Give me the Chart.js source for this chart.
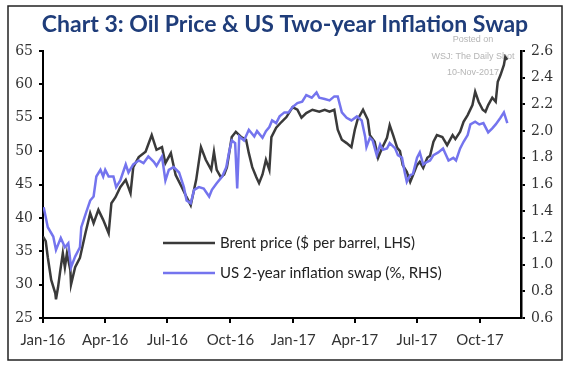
<!DOCTYPE html>
<html>
<head>
<meta charset="utf-8">
<script src="https://cdn.jsdelivr.net/npm/chart.js@4.4.1/dist/chart.umd.min.js"></script>
<style>
  body { margin: 0; background: #fff; }
  #wrap { width: 570px; height: 365px; }
</style>
</head>
<body>
<div id="wrap"><canvas id="chart" width="570" height="365"></canvas></div>
<script>
// days counted from 1 Jan 2016
const brentDays = [0, 4, 7, 12, 18, 19, 22, 25, 29, 32, 35, 40, 41, 47, 54, 62, 69, 74, 81, 88, 96,
  100, 106, 113, 121, 128, 132, 140, 150, 159, 166, 174, 179, 187, 194, 203, 210, 216, 224, 231,
  238, 246, 250, 254, 260, 265, 269, 276, 282, 290, 297, 301, 306, 312, 316, 321, 326, 331, 334,
  341, 349, 356, 365, 372, 378, 385, 394, 404, 412, 419, 426, 431, 437, 444, 451, 456, 460, 468,
  475, 478, 485, 490, 496, 503, 507, 512, 518, 522, 526, 532, 537, 541, 547, 551, 556, 562, 566,
  571, 576, 584, 591, 599, 603, 610, 615, 621, 628, 632, 637, 643, 647, 651, 657, 662, 665, 669,
  674, 676, 679];
const brentPrice = [37.2, 36.5, 34.1, 30.7, 28.7, 27.8, 29.6, 31.9, 34.7, 32.6, 34.7, 32.2, 30.0,
  32.6, 34.0, 37.7, 40.7, 39.2, 41.2, 39.7, 37.7,
  42.2, 43.1, 44.6, 45.7, 43.7, 47.6, 49.1, 49.9, 52.4, 50.2, 50.6, 48.2, 49.7, 46.4, 44.6, 43.1,
  41.9, 45.7, 50.6,
  48.7, 47.2, 49.9, 47.2, 46.1, 46.5, 47.6, 52.1, 52.9, 52.1, 51.7, 49.7, 47.6, 46.1, 45.2, 46.5,
  48.7, 47.2, 52.1,
  53.5, 54.4, 55.1, 56.6, 56.2, 55.0, 55.7, 56.2, 55.9, 56.2, 55.9, 56.2, 53.2, 51.7, 51.2, 50.6,
  53.2, 54.7, 56.2,
  54.7, 52.4, 51.4, 49.0, 50.5, 52.0, 53.9, 52.4, 50.5, 50.0, 47.9, 46.9, 45.4, 46.4, 47.9, 48.4,
  47.5, 49.0, 49.3,
  51.4, 52.4, 52.1, 50.9, 52.4, 51.8, 52.9, 54.4, 55.4, 56.9, 58.9, 57.4, 56.2, 55.9, 56.9, 58.0,
  57.4, 60.4, 61.4,
  62.9, 64.1, 63.7];

const swapDays = [1, 7, 15, 19, 26, 32, 37, 41, 47, 54, 56, 63, 69, 74, 78, 84, 88, 91, 96, 103,
  107, 113, 121, 125, 132, 140, 147, 154, 162, 166, 174, 179, 184, 191, 199, 206, 210, 216, 221,
  228, 235, 243, 247, 254, 262, 268, 272, 276, 281, 284, 287, 294, 301, 309, 313, 321, 326, 331,
  335, 341, 346, 353, 359, 365, 372, 379, 385, 393, 400, 404, 412, 419, 426, 431, 437, 444, 451,
  459, 466, 471, 473, 478, 482, 488, 493, 497, 503, 507, 515, 519, 525, 529, 532, 537, 541, 547,
  551, 556, 562, 566, 571, 578, 585, 593, 600, 604, 610, 615, 621, 625, 632, 638, 644, 651, 657,
  662, 669, 674, 679];
const swapRate = [1.43, 1.28, 1.21, 1.11, 1.20, 1.13, 1.16, 0.98, 1.06, 1.13, 1.28, 1.39, 1.48,
  1.51, 1.66, 1.71, 1.66, 1.71, 1.66, 1.66,
  1.58, 1.63, 1.75, 1.69, 1.75, 1.78, 1.76, 1.81, 1.77, 1.74, 1.81, 1.63, 1.71, 1.73, 1.69, 1.58,
  1.48, 1.46, 1.56,
  1.58, 1.57, 1.51, 1.56, 1.61, 1.66, 1.73, 1.84, 1.93, 1.91, 1.57, 1.96, 1.93, 2.01, 1.96, 2.00,
  1.95, 2.00, 2.03,
  2.08, 2.06, 2.11, 2.14, 2.14, 2.18, 2.21, 2.22, 2.27, 2.25, 2.29, 2.25, 2.24, 2.23, 2.26, 2.26,
  2.14, 2.10, 2.08,
  2.11, 2.08, 1.96, 1.88, 1.95, 1.93, 1.82, 1.90, 1.86, 1.87, 1.91, 1.87, 1.82, 1.80, 1.69, 1.62,
  1.67, 1.68, 1.80,
  1.84, 1.75, 1.77, 1.78, 1.82, 1.84, 1.87, 1.78, 1.80, 1.78, 1.87, 1.92, 1.97, 2.05, 2.07, 2.05,
  2.06, 1.99, 2.02,
  2.05, 2.10, 2.14, 2.06];

const tickDates = ['2016-01-01', '2016-04-01', '2016-07-01', '2016-10-01',
  '2017-01-01', '2017-04-01', '2017-07-01', '2017-10-01'];
const tickLabels = ['Jan-16', 'Apr-16', 'Jul-16', 'Oct-16', 'Jan-17', 'Apr-17', 'Jul-17', 'Oct-17'];
const axisEnd = '2017-11-30';

const seriesNames = ['Brent price ($ per barrel, LHS)', 'US 2-year inflation swap (%, RHS)'];
const titleText = 'Chart 3: Oil Price & US Two-year Inflation Swap';
const stampLines = ['Posted on', 'WSJ: The Daily Shot', '10-Nov-2017'];

function dayOf(s) {
  const p = s.split('-').map(Number);
  return (Date.UTC(p[0], p[1] - 1, p[2]) - Date.UTC(2016, 0, 1)) / 86400000;
}
const tickDays = tickDates.map(dayOf);

const BLACK = '#3a3a3a';
const BLUE = '#7474ee';

// titre, tampon, légende et cadre
const decor = {
  id: 'decor',
  beforeDraw(chart) {
    const ctx = chart.ctx;
    ctx.save();
    ctx.fillStyle = '#fff';
    ctx.fillRect(0, 0, chart.width, chart.height);
    ctx.restore();
  },
  beforeDatasetsDraw(chart) {
    const ctx = chart.ctx;
    ctx.save();
    ctx.fillStyle = '#b5b5b5';
    ctx.font = '9px "Liberation Sans"';
    ctx.textAlign = 'center';
    ctx.textBaseline = 'middle';
    stampLines.forEach((t, i) => ctx.fillText(t, 473, 40 + i * 16.5));
    ctx.restore();
  },
  afterDraw(chart) {
    const ctx = chart.ctx;
    ctx.save();
    // titre
    ctx.fillStyle = '#1f3d7a';
    ctx.font = 'bold 23px Lato';
    ctx.textAlign = 'center';
    ctx.textBaseline = 'alphabetic';
    ctx.fillText(titleText, 285, 32, 515);

    // légende
    const colors = [BLACK, BLUE];
    ctx.font = '15px Lato';
    ctx.textAlign = 'left';
    ctx.textBaseline = 'middle';
    seriesNames.forEach((name, i) => {
      const y = 243 + i * 30;
      ctx.strokeStyle = colors[i];
      ctx.lineWidth = 2.5;
      ctx.beginPath();
      ctx.moveTo(163, y);
      ctx.lineTo(215, y);
      ctx.stroke();
      ctx.fillStyle = '#222';
      ctx.fillText(name, 220, y);
    });

    // cadre
    ctx.strokeStyle = '#222';
    ctx.lineWidth = 1.5;
    ctx.strokeRect(8, 6, 554, 354);
    ctx.restore();
  }
};

const tickFontY = { family: '"DejaVu Serif"', size: 14 };

new Chart(document.getElementById('chart'), {
  type: 'line',
  data: {
    datasets: [
      {
        label: seriesNames[0],
        data: brentDays.map((d, i) => ({ x: d, y: brentPrice[i] })),
        yAxisID: 'y',
        borderColor: BLACK,
        borderWidth: 2.5,
        pointRadius: 0,
        tension: 0,
        order: 2
      },
      {
        label: seriesNames[1],
        data: swapDays.map((d, i) => ({ x: d, y: swapRate[i] })),
        yAxisID: 'y2',
        borderColor: BLUE,
        borderWidth: 2.5,
        pointRadius: 0,
        tension: 0,
        order: 1
      }
    ]
  },
  options: {
    responsive: false,
    animation: false,
    layout: { padding: { top: 51, left: 0, right: 0, bottom: 0 } },
    plugins: {
      legend: { display: false },
      tooltip: { enabled: false },
      title: { display: false }
    },
    scales: {
      x: {
        type: 'linear',
        min: 0,
        max: dayOf(axisEnd),
        afterBuildTicks: (scale) => {
          scale.ticks = tickDays.map(v => ({ value: v }));
        },
        afterFit: (scale) => { scale.height = 47; },
        ticks: {
          autoSkip: false,
          maxRotation: 0,
          padding: 8,
          color: '#333',
          font: { family: 'Lato', size: 15 },
          callback: (value, index) => tickLabels[index]
        },
        grid: { drawOnChartArea: false, drawTicks: true, tickLength: 5, color: '#000', lineWidth: 2 },
        border: { display: true, color: '#000', width: 2 }
      },
      y: {
        position: 'left',
        min: 25,
        max: 65,
        afterFit: (scale) => { scale.width = 43; },
        ticks: { stepSize: 5, padding: 6, color: '#333', font: tickFontY },
        grid: { drawOnChartArea: false, drawTicks: true, tickLength: 4, color: '#000', lineWidth: 2 },
        border: { display: true, color: '#000', width: 2 }
      },
      y2: {
        position: 'right',
        min: 0.6,
        max: 2.6,
        afterFit: (scale) => { scale.width = 49; },
        ticks: {
          stepSize: 0.2,
          padding: 6,
          color: '#333',
          font: tickFontY,
          callback: (v) => v.toFixed(1)
        },
        grid: { drawOnChartArea: false, drawTicks: true, tickLength: 4, color: '#000', lineWidth: 2 },
        border: { display: true, color: '#000', width: 2.5 }
      }
    }
  },
  plugins: [decor]
});
</script>
</body>
</html>
